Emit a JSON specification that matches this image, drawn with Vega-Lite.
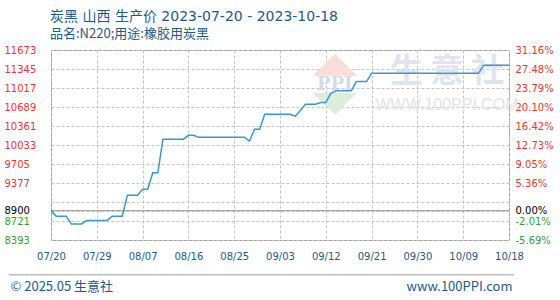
{
  "$schema": "https://vega.github.io/schema/vega-lite/v6.json",
  "width": 458,
  "height": 190,
  "autosize": {"type": "none"},
  "padding": {"left": 51, "top": 50, "right": 51, "bottom": 60},
  "background": "white",
  "config": {
    "view": {"stroke": "#999999", "strokeWidth": 1},
    "font": "DejaVu Sans",
    "axis": {"gridColor": "#c4c4c4", "gridOpacity": 1, "gridDash": [3, 2], "gridWidth": 1}
  },
  "title": {
    "text": "炭黑 山西 生产价 2023-07-20 - 2023-10-18",
    "subtitle": "品名:N220;用途:橡胶用炭黑",
    "anchor": "start",
    "frame": "group",
    "dx": -1,
    "offset": 4,
    "font": "DejaVu Sans, Noto Sans CJK SC",
    "fontSize": 14,
    "fontWeight": "normal",
    "color": "#1d5a8a",
    "subtitleFont": "Noto Sans CJK SC",
    "subtitleFontSize": 13,
    "subtitleColor": "#1d5a8a",
    "subtitlePadding": 4
  },
  "datasets": {
    "one": [{}],
    "price": [
      {"date": "2023/07/20", "value": 8900},
      {"date": "2023/07/21", "value": 8805},
      {"date": "2023/07/22", "value": 8805},
      {"date": "2023/07/23", "value": 8805},
      {"date": "2023/07/24", "value": 8670},
      {"date": "2023/07/25", "value": 8670},
      {"date": "2023/07/26", "value": 8670},
      {"date": "2023/07/27", "value": 8728},
      {"date": "2023/07/28", "value": 8728},
      {"date": "2023/07/29", "value": 8728},
      {"date": "2023/07/30", "value": 8728},
      {"date": "2023/07/31", "value": 8728},
      {"date": "2023/08/01", "value": 8805},
      {"date": "2023/08/02", "value": 8805},
      {"date": "2023/08/03", "value": 8805},
      {"date": "2023/08/04", "value": 9165},
      {"date": "2023/08/05", "value": 9165},
      {"date": "2023/08/06", "value": 9165},
      {"date": "2023/08/07", "value": 9268},
      {"date": "2023/08/08", "value": 9268},
      {"date": "2023/08/09", "value": 9555},
      {"date": "2023/08/10", "value": 9555},
      {"date": "2023/08/11", "value": 10133},
      {"date": "2023/08/12", "value": 10133},
      {"date": "2023/08/13", "value": 10133},
      {"date": "2023/08/14", "value": 10133},
      {"date": "2023/08/15", "value": 10133},
      {"date": "2023/08/16", "value": 10200},
      {"date": "2023/08/17", "value": 10200},
      {"date": "2023/08/18", "value": 10167},
      {"date": "2023/08/19", "value": 10167},
      {"date": "2023/08/20", "value": 10167},
      {"date": "2023/08/21", "value": 10167},
      {"date": "2023/08/22", "value": 10167},
      {"date": "2023/08/23", "value": 10167},
      {"date": "2023/08/24", "value": 10167},
      {"date": "2023/08/25", "value": 10167},
      {"date": "2023/08/26", "value": 10167},
      {"date": "2023/08/27", "value": 10167},
      {"date": "2023/08/28", "value": 10100},
      {"date": "2023/08/29", "value": 10304},
      {"date": "2023/08/30", "value": 10304},
      {"date": "2023/08/31", "value": 10565},
      {"date": "2023/09/01", "value": 10565},
      {"date": "2023/09/02", "value": 10565},
      {"date": "2023/09/03", "value": 10565},
      {"date": "2023/09/04", "value": 10565},
      {"date": "2023/09/05", "value": 10565},
      {"date": "2023/09/06", "value": 10530},
      {"date": "2023/09/07", "value": 10630},
      {"date": "2023/09/08", "value": 10737},
      {"date": "2023/09/09", "value": 10737},
      {"date": "2023/09/10", "value": 10737},
      {"date": "2023/09/11", "value": 10768},
      {"date": "2023/09/12", "value": 10768},
      {"date": "2023/09/13", "value": 10925},
      {"date": "2023/09/14", "value": 10968},
      {"date": "2023/09/15", "value": 10968},
      {"date": "2023/09/16", "value": 10968},
      {"date": "2023/09/17", "value": 10968},
      {"date": "2023/09/18", "value": 11128},
      {"date": "2023/09/19", "value": 11128},
      {"date": "2023/09/20", "value": 11128},
      {"date": "2023/09/21", "value": 11270},
      {"date": "2023/09/22", "value": 11270},
      {"date": "2023/09/23", "value": 11270},
      {"date": "2023/09/24", "value": 11270},
      {"date": "2023/09/25", "value": 11270},
      {"date": "2023/09/26", "value": 11270},
      {"date": "2023/09/27", "value": 11270},
      {"date": "2023/09/28", "value": 11270},
      {"date": "2023/09/29", "value": 11270},
      {"date": "2023/09/30", "value": 11270},
      {"date": "2023/10/01", "value": 11270},
      {"date": "2023/10/02", "value": 11270},
      {"date": "2023/10/03", "value": 11270},
      {"date": "2023/10/04", "value": 11270},
      {"date": "2023/10/05", "value": 11270},
      {"date": "2023/10/06", "value": 11270},
      {"date": "2023/10/07", "value": 11270},
      {"date": "2023/10/08", "value": 11270},
      {"date": "2023/10/09", "value": 11270},
      {"date": "2023/10/10", "value": 11270},
      {"date": "2023/10/11", "value": 11270},
      {"date": "2023/10/12", "value": 11270},
      {"date": "2023/10/13", "value": 11410},
      {"date": "2023/10/14", "value": 11410},
      {"date": "2023/10/15", "value": 11410},
      {"date": "2023/10/16", "value": 11410},
      {"date": "2023/10/17", "value": 11410},
      {"date": "2023/10/18", "value": 11410}
    ]
  },
  "layer": [
    {
      "data": {"name": "one"},
      "mark": {"type": "point", "shape": "M-1,0.5L0,-0.5L1,0.5Z", "filled": true, "color": "#f8ddd8", "opacity": 1},
      "encoding": {
        "x": {"datum": {"year": 2023, "month": 9, "date": 13, "hours": 19}, "type": "temporal"},
        "y": {"datum": 11420, "type": "quantitative", "axis": null},
        "size": {"value": 1936}
      }
    },
    {
      "data": {"name": "one"},
      "mark": {"type": "point", "shape": "M-1,-0.5L0,0.5L1,-0.5Z", "filled": true, "color": "#d9efd9", "opacity": 1},
      "encoding": {
        "x": {"datum": {"year": 2023, "month": 9, "date": 13, "hours": 19}, "type": "temporal"},
        "y": {"datum": 10740, "type": "quantitative", "axis": null},
        "size": {"value": 1936}
      }
    },
    {
      "data": {"name": "one"},
      "mark": {"type": "text", "text": "PPI", "font": "Liberation Serif", "fontSize": 22, "fontWeight": "bold", "color": "#d3dbea", "baseline": "middle", "align": "center"},
      "encoding": {
        "x": {"datum": {"year": 2023, "month": 9, "date": 13, "hours": 19}, "type": "temporal"},
        "y": {"datum": 11110, "type": "quantitative", "axis": null}
      }
    },
    {
      "data": {"name": "one"},
      "mark": {"type": "text", "text": "生  意  社", "font": "Noto Sans CJK SC", "fontSize": 33, "fontWeight": "bold", "color": "#dfe4ee", "baseline": "middle", "align": "center"},
      "encoding": {
        "x": {"datum": {"year": 2023, "month": 10, "date": 5, "hours": 20}, "type": "temporal"},
        "y": {"datum": 11300, "type": "quantitative", "axis": null}
      }
    },
    {
      "data": {"name": "one"},
      "mark": {"type": "text", "text": "WWW.100PPI.COM", "font": "Liberation Sans", "fontSize": 16, "color": "#e4e4e4", "baseline": "middle", "align": "center"},
      "encoding": {
        "x": {"datum": {"year": 2023, "month": 10, "date": 5, "hours": 20}, "type": "temporal"},
        "y": {"datum": 10724, "type": "quantitative", "axis": null}
      }
    },
    {
      "data": {"name": "one"},
      "mark": {"type": "rule", "color": "#999999", "strokeWidth": 1},
      "encoding": {
        "x": {"datum": {"year": 2023, "month": 7, "date": 11, "hours": 18}, "type": "temporal"},
        "x2": {"datum": {"year": 2023, "month": 10, "date": 18, "hours": 23}},
        "y": {"datum": 7792, "type": "quantitative", "axis": null}
      }
    },
    {
      "data": {"name": "one"},
      "mark": {"type": "rule", "color": "#999999", "strokeWidth": 1},
      "encoding": {
        "y": {
          "datum": 8900,
          "type": "quantitative",
          "scale": {"domain": [8393, 11673], "nice": false, "zero": false},
          "axis": {
            "orient": "right",
            "title": null,
            "values": [8393, 8721, 8900, 9049, 9377, 9705, 10033, 10361, 10689, 11017, 11345, 11673],
            "labelExpr": "datum.value == 11673 ? '31.16%' : datum.value == 11345 ? '27.48%' : datum.value == 11017 ? '23.79%' : datum.value == 10689 ? '20.10%' : datum.value == 10361 ? '16.42%' : datum.value == 10033 ? '12.73%' : datum.value == 9705 ? '9.05%' : datum.value == 9377 ? '5.36%' : datum.value == 8900 ? '0.00%' : datum.value == 8721 ? '-2.01%' : datum.value == 8393 ? '-5.69%' : ''",
            "grid": true,
            "domain": false,
            "ticks": false,
            "labelPadding": 6,
            "labelFont": "DejaVu Sans",
            "labelFontSize": 10,
            "labelOverlap": false,
            "labelBound": false,
            "labelFlush": false,
            "labelColor": {"condition": [{"test": "datum.value > 8900", "value": "#ee3333"}, {"test": "datum.value < 8900", "value": "#33a033"}], "value": "#000000"}
          }
        }
      }
    },
    {
      "data": {"name": "price"},
      "mark": {"type": "line", "color": "#3a98d6", "strokeWidth": 1.5},
      "encoding": {
        "x": {
          "field": "date",
          "type": "temporal",
          "scale": {"domain": [{"year": 2023, "month": 7, "date": 20}, {"year": 2023, "month": 10, "date": 18}]},
          "axis": {
            "orient": "bottom",
            "title": "© 2025.05 生意社",
            "titleFont": "Noto Sans CJK SC",
            "titleFontSize": 13,
            "titleFontWeight": "normal",
            "titleColor": "#1d5a8a",
            "titleX": -41,
            "titleY": 50,
            "titleAlign": "left",
            "titleAnchor": "start",
            "titleBaseline": "alphabetic",
            "values": [
              {"year": 2023, "month": 7, "date": 20},
              {"year": 2023, "month": 7, "date": 29},
              {"year": 2023, "month": 8, "date": 7},
              {"year": 2023, "month": 8, "date": 16},
              {"year": 2023, "month": 8, "date": 25},
              {"year": 2023, "month": 9, "date": 3},
              {"year": 2023, "month": 9, "date": 12},
              {"year": 2023, "month": 9, "date": 21},
              {"year": 2023, "month": 9, "date": 30},
              {"year": 2023, "month": 10, "date": 9},
              {"year": 2023, "month": 10, "date": 18}
            ],
            "format": "%m/%d",
            "grid": true,
            "domain": false,
            "ticks": false,
            "labelPadding": 11,
            "labelFont": "DejaVu Sans",
            "labelFontSize": 10,
            "labelColor": "#1d5a8a",
            "labelOverlap": false,
            "labelBound": false,
            "labelFlush": false
          }
        },
        "y": {
          "field": "value",
          "type": "quantitative",
          "scale": {"domain": [8393, 11673], "nice": false, "zero": false},
          "axis": {
            "orient": "left",
            "title": "www.100PPI.com",
            "titleAngle": 0,
            "titleX": 461,
            "titleY": 240,
            "titleAlign": "right",
            "titleBaseline": "alphabetic",
            "titleFont": "Noto Sans CJK SC",
            "titleFontSize": 13,
            "titleFontWeight": "normal",
            "titleColor": "#1d5a8a",
            "values": [8393, 8721, 8900, 9377, 9705, 10033, 10361, 10689, 11017, 11345, 11673],
            "format": "d",
            "grid": false,
            "domain": false,
            "ticks": false,
            "labelAlign": "left",
            "labelPadding": 47,
            "labelFont": "DejaVu Sans",
            "labelFontSize": 10,
            "labelOverlap": false,
            "labelBound": false,
            "labelFlush": false,
            "labelColor": {"condition": [{"test": "datum.value > 8900", "value": "#ee3333"}, {"test": "datum.value < 8900", "value": "#33a033"}], "value": "#000000"}
          }
        }
      }
    }
  ],
  "resolve": {"axis": {"y": "independent"}}
}
